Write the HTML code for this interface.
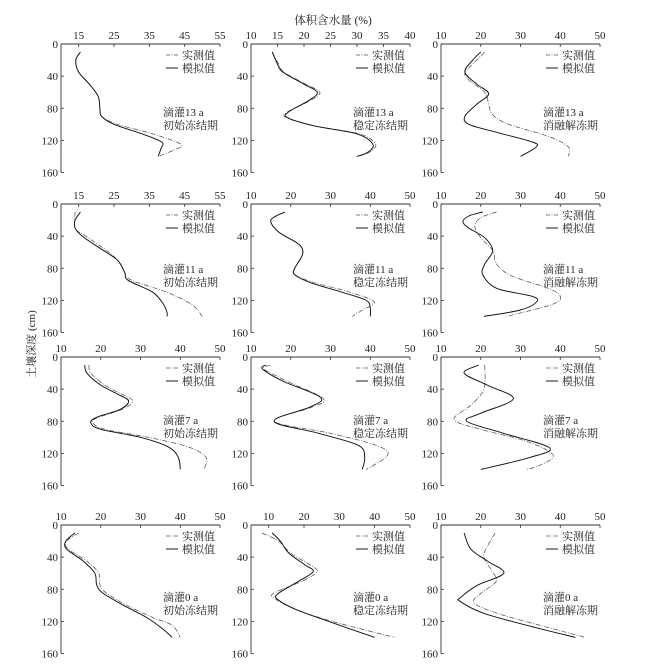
<!DOCTYPE html>
<html><head><meta charset="utf-8">
<style>
html,body{margin:0;padding:0;background:#fff;}
svg{display:block;}
text{font-family:"Liberation Serif","Noto Serif CJK SC","Noto Sans CJK SC",serif;fill:#222;}
</style></head>
<body>
<svg id="s" width="653" height="667" viewBox="0 0 653 667" xmlns="http://www.w3.org/2000/svg">
<text x="333" y="24" font-size="11.5" text-anchor="middle">体积含水量 (%)</text>
<text transform="translate(35,344) rotate(-90)" font-size="11" text-anchor="middle">土壤深度 (cm)</text>
</svg>
<script>
var S=document.getElementById('s'),NS='http://www.w3.org/2000/svg';
function el(t,a,txt){var e=document.createElementNS(NS,t);for(var k in a)e.setAttribute(k,a[k]);if(txt!==undefined)e.textContent=txt;S.appendChild(e);return e;}
var AX=[61,251,441],AY=[44,204,357,525],W=159,H=128.5;
var annY=[112,269,420,597];
var P=[
 {r:0,c:0,min:10,max:55,lab:[15,25,35,45,55],n:['滴灌13 a','初始冻结期'],
  s:[[15.5,10],[14.2,20],[15,35],[18,50],[20.5,65],[21,80],[21.5,90],[25,100],[33,112],[38.5,122],[38.3,130],[37.5,140]],
  m:[[15.5,10],[14.2,20],[15,35],[18,50],[20.5,65],[21,80],[21.5,90],[26,100],[36,112],[44,125],[42,132],[37.5,140]]},
 {r:0,c:1,min:10,max:40,lab:[10,15,20,25,30,35,40],n:['滴灌13 a','稳定冻结期'],
  s:[[14,10],[15,25],[16,35],[20,50],[22.5,60],[21,70],[17,85],[17,92],[22,102],[30,112],[33,125],[32,135],[30,140]],
  m:[[14,10],[15.2,25],[16.2,35],[20.3,50],[23,60],[21.3,70],[16.8,85],[16.8,92],[22,102],[30.5,112],[33.5,125],[32.3,135],[30,140]]},
 {r:0,c:2,min:10,max:50,lab:[10,20,30,40,50],n:['滴灌13 a','消融解冻期'],
  s:[[20,10],[18,20],[16,35],[19,50],[22,62],[19,75],[16,90],[17,100],[24,110],[33,122],[34,128],[30,140]],
  m:[[21,10],[18,25],[16,36],[17,45],[21,60],[22,75],[23,88],[27,100],[37,115],[42,128],[42,140]]},
 {r:1,c:0,min:10,max:55,lab:[15,25,35,45,55],n:['滴灌11 a','初始冻结期'],
  s:[[15.5,10],[14,20],[14,30],[16,40],[21,55],[26,70],[28,85],[29,95],[36,110],[39,125],[40,135],[40,140]],
  m:[[14,10],[14,30],[17,40],[22,55],[26,70],[28,85],[30,95],[40,110],[47,125],[50,140]]},
 {r:1,c:1,min:10,max:50,lab:[10,20,30,40,50],n:['滴灌11 a','稳定冻结期'],
  s:[[18.5,10],[15,20],[17,35],[22,50],[23,62],[21,80],[21,88],[25,98],[33,110],[39,120],[40,130],[40,140]],
  m:[[18.5,10],[15,20],[17,35],[22,50],[23,62],[21,80],[21,88],[26,98],[35,110],[41,122],[38,132],[35.5,140]]},
 {r:1,c:2,min:10,max:50,lab:[10,20,30,40,50],n:['滴灌11 a','消融解冻期'],
  s:[[20.5,10],[17,15],[15.5,22],[17,30],[21,42],[23,58],[21,75],[20.5,88],[24,105],[33,115],[34,122],[30,132],[20.8,140]],
  m:[[24,10],[20,17],[18.5,28],[20,42],[23,58],[24,75],[28,90],[37,105],[40,115],[38,125],[26.5,140]]},
 {r:2,c:0,min:10,max:50,lab:[10,20,30,40,50],n:['滴灌7 a','初始冻结期'],
  s:[[16,10],[16.5,20],[20,35],[25,48],[27,55],[25,65],[19,75],[17.5,82],[20,90],[30,100],[37,112],[39.5,125],[40,140]],
  m:[[17,10],[17.5,20],[21,35],[26,48],[28,55],[25.5,65],[19,76],[18,82],[21,90],[32,100],[42,112],[46.5,125],[46,140]]},
 {r:2,c:1,min:10,max:50,lab:[10,20,30,40,50],n:['滴灌7 a','稳定冻结期'],
  s:[[13.7,10],[12.9,15],[18,30],[27.4,50],[25,62],[15.8,80],[27,95],[37,110],[38.6,125],[38,140]],
  m:[[14.8,10],[13.3,15],[19,30],[28.2,52],[25,63],[15.8,80],[30,95],[41.5,110],[44.4,122],[39,140]]},
 {r:2,c:2,min:10,max:50,lab:[10,20,30,40,50],n:['滴灌7 a','消融解冻期'],
  s:[[19.5,10],[15.8,20],[21.6,35],[28.2,52],[20,70],[16.5,80],[25.7,95],[37.3,113],[32.4,125],[20,140]],
  m:[[21,10],[20.8,40],[17.5,60],[13.3,78],[20,90],[31.5,105],[38.2,122],[34.8,135],[31.5,140]]},
 {r:3,c:0,min:10,max:50,lab:[10,20,30,40,50],n:['滴灌0 a','初始冻结期'],
  s:[[13.5,10],[11.2,20],[11.4,30],[15.6,45],[18.5,60],[19,75],[20.6,85],[25.7,100],[31.5,115],[35.7,130],[38,140]],
  m:[[14.4,10],[11.4,20],[11.8,30],[16.5,45],[19.5,60],[19.8,75],[21.5,85],[26.5,100],[33,115],[38,125],[40,140]]},
 {r:3,c:1,min:5,max:50,lab:[10,20,30,40,50],n:['滴灌0 a','稳定冻结期'],
  s:[[11,10],[13.3,20],[15.7,35],[20.4,50],[22.6,58],[18.5,70],[12.8,85],[12.4,92],[17.6,105],[27,120],[40,140]],
  m:[[8.1,10],[12.8,20],[16.2,35],[21.8,50],[23.7,58],[19.5,70],[11.4,85],[11.9,92],[17.6,105],[28,120],[45.7,140]]},
 {r:3,c:2,min:10,max:50,lab:[10,20,30,40,50],n:['滴灌0 a','消融解冻期'],
  s:[[15.8,10],[17.5,30],[21.7,45],[25.8,60],[19.2,75],[15,90],[14.8,95],[20.8,110],[31.7,125],[43.8,140]],
  m:[[23.6,10],[21.3,30],[20.8,40],[22.5,55],[23.9,70],[20,85],[18.3,97],[24.2,110],[35,125],[46.3,140]]}
];
function path(pts){
  var d='M'+pts[0][0].toFixed(1)+' '+pts[0][1].toFixed(1);
  for(var i=0;i<pts.length-1;i++){
    var p0=pts[Math.max(0,i-1)],p1=pts[i],p2=pts[i+1],p3=pts[Math.min(pts.length-1,i+2)];
    var c1=[p1[0]+(p2[0]-p0[0])/6,p1[1]+(p2[1]-p0[1])/6];
    var c2=[p2[0]-(p3[0]-p1[0])/6,p2[1]-(p3[1]-p1[1])/6];
    d+=' C'+c1[0].toFixed(1)+' '+c1[1].toFixed(1)+' '+c2[0].toFixed(1)+' '+c2[1].toFixed(1)+' '+p2[0].toFixed(1)+' '+p2[1].toFixed(1);
  }
  return d;
}
P.forEach(function(p){
  var x0=AX[p.c],y0=AY[p.r];
  var fx=function(v){return x0+(v-p.min)/(p.max-p.min)*W;};
  var fy=function(d){return y0+d/160*H;};
  el('line',{x1:x0,y1:y0,x2:x0+W,y2:y0,stroke:'#333','stroke-width':0.9});
  el('line',{x1:x0,y1:y0,x2:x0,y2:y0+H,stroke:'#333','stroke-width':0.9});
  p.lab.forEach(function(v){var X=fx(v);
    el('line',{x1:X,y1:y0,x2:X,y2:y0+3,stroke:'#333','stroke-width':0.8});
    el('text',{x:X,y:y0-5,'font-size':11,'text-anchor':'middle'},String(v));});
  [0,40,80,120,160].forEach(function(d){var Y=fy(d);
    el('line',{x1:x0,y1:Y,x2:x0+3,y2:Y,stroke:'#333','stroke-width':0.8});
    el('text',{x:x0-3,y:Y+4,'font-size':11,'text-anchor':'end'},String(d));});
  var conv=function(a){return a.map(function(q){return [fx(q[0]),fy(q[1])];});};
  el('path',{d:path(conv(p.m)),fill:'none',stroke:'#555','stroke-width':0.75,'stroke-dasharray':'5,1.5,1,1.5'});
  el('path',{d:path(conv(p.s)),fill:'none',stroke:'#111','stroke-width':0.95});
  el('line',{x1:x0+105,y1:y0+11,x2:x0+117,y2:y0+11,stroke:'#555','stroke-width':0.75,'stroke-dasharray':'4,1.5,1,1.5'});
  el('text',{x:x0+121,y:y0+15,'font-size':11},'实测值');
  el('line',{x1:x0+105,y1:y0+24,x2:x0+117,y2:y0+24,stroke:'#111','stroke-width':0.95});
  el('text',{x:x0+121,y:y0+28,'font-size':11},'模拟值');
  var ay=annY[p.r];
  el('text',{x:x0+102,y:ay+4,'font-size':11},p.n[0]);
  el('text',{x:x0+102,y:ay+17,'font-size':11},p.n[1]);
});
</script>
</body></html>
